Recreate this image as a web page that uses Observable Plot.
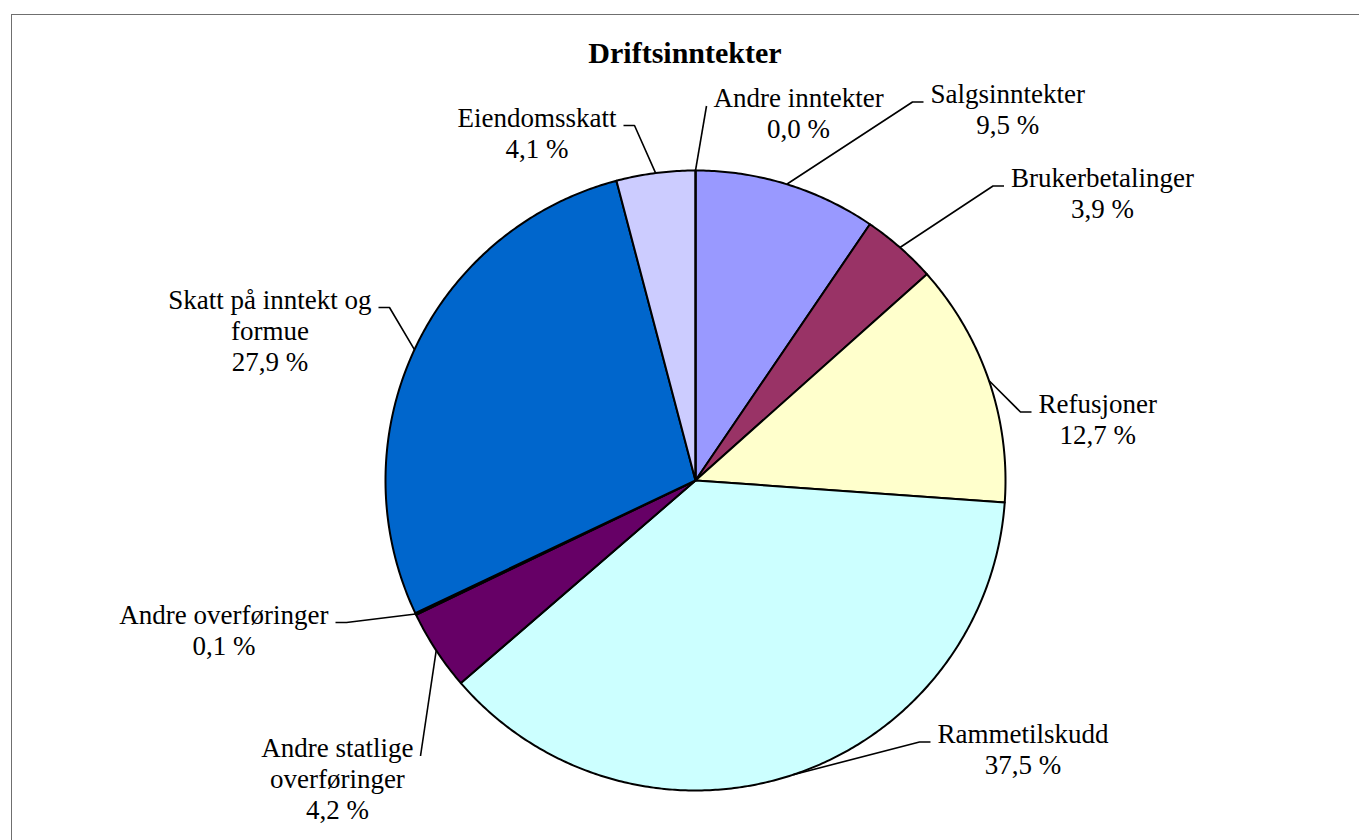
<!DOCTYPE html>
<html>
<head>
<meta charset="utf-8">
<script src="https://cdn.jsdelivr.net/npm/d3@7"></script>
<script src="https://cdn.jsdelivr.net/npm/@observablehq/plot@0.6"></script>
<style>
  html, body { margin: 0; padding: 0; background: #fff; overflow: hidden; }
  #wrap { position: relative; width: 1359px; height: 840px; }
  #frame { position: absolute; left: 11px; top: 14px; width: 1420px; height: 900px;
           border: 1.5px solid #6f6f6f; box-sizing: border-box; pointer-events: none; }
  #title { position: absolute; left: 0; top: 38px; width: 1370px; text-align: center;
           font: bold 30px/30px "Liberation Serif", "Times New Roman", serif; color: #000; margin: 0; }
  #chart { position: absolute; left: 0; top: 0; }
  #chart svg text, #chart svg tspan { font-family: "Liberation Serif", "Times New Roman", serif !important; }
</style>
</head>
<body>
<div id="wrap">
  <div id="chart"></div>
  <h2 id="title">Driftsinntekter</h2>
  <div id="frame"></div>
</div>
<script>
// ---- data ----
const categories = [
  "Salgsinntekter",
  "Brukerbetalinger",
  "Refusjoner",
  "Rammetilskudd",
  "Andre statlige overføringer",
  "Andre overføringer",
  "Skatt på inntekt og formue",
  "Eiendomsskatt",
  "Andre inntekter"
];
const shares = [9.5, 3.9, 12.7, 37.5, 4.2, 0.1, 27.9, 4.1, 0.0];
const labelText = [
  "Salgsinntekter",
  "Brukerbetalinger",
  "Refusjoner",
  "Rammetilskudd",
  "Andre statlige\noverføringer",
  "Andre overføringer",
  "Skatt på inntekt og\nformue",
  "Eiendomsskatt",
  "Andre inntekter"
];

// ---- styles / layout ----
const colours = ["#9999FF", "#993366", "#FFFFCC", "#CCFFFF", "#660066", "#FF8080", "#0066CC", "#CCCCFF", "#000080"];
const W = 1359, H = 840;
const pieCx = 695, pieCy = 480, pieR = 310;
// where each leader line meets its label box (label placement, as dragged in the original)
const leaderEnds = [[923, 101.5], [1003.5, 185.5], [1031, 411.5], [930, 741.5], [420, 755.5], [335, 622], [378, 307], [623, 125], [706, 105.5]];
const fontSize = 27, lineGap = 31;
const serif = '"Liberation Serif", "Times New Roman", serif';

// ---- build geometry from data ----
const rows = categories.map((c, i) => ({cat: c, value: shares[i], label: labelText[i]}));
const arcs = d3.pie().sort(null).value(d => d.value).startAngle(0).endAngle(2 * Math.PI)(rows);
const px = a => pieCx + pieR * Math.sin(a);
const py = a => pieCy - pieR * Math.cos(a);

const slicePts = [];
arcs.forEach(a => {
  const cat = a.data.cat;
  slicePts.push({cat, x: pieCx, y: pieCy});
  const n = Math.max(1, Math.ceil((a.endAngle - a.startAngle) / (Math.PI / 360)));
  for (let k = 0; k <= n; k++) {
    const t = a.startAngle + (a.endAngle - a.startAngle) * k / n;
    slicePts.push({cat, x: px(t), y: py(t)});
  }
});

const ctx = document.createElement("canvas").getContext("2d");
ctx.font = `${fontSize}px ${serif}`;

const leaderPts = [];
const labelRows = [];
arcs.forEach((a, i) => {
  const cat = a.data.cat;
  const mid = (a.startAngle + a.endAngle) / 2;
  const rx = px(mid), ry = py(mid);
  const [ex, ey] = leaderEnds[i];
  const dir = ex >= rx ? 1 : -1;
  leaderPts.push({cat, x: rx, y: ry});
  if (Math.abs(ex - rx) > 25) leaderPts.push({cat, x: ex - dir * 11, y: ey});
  leaderPts.push({cat, x: ex, y: ey});
  const pct = a.data.value.toFixed(1).replace(".", ",") + " %";
  const lines = (a.data.label + "\n" + pct).split("\n");
  const maxW = d3.max(lines, l => ctx.measureText(l).width);
  labelRows.push({
    cat,
    text: lines.join("\n"),
    tx: ex + dir * (7 + maxW / 2),
    ty: ey + 1 + (lines.length - 1) * lineGap
  });
});

const chart = Plot.plot({
  width: W,
  height: H,
  margin: 0,
  x: {domain: [0, W], range: [0, W], axis: null},
  y: {domain: [0, H], range: [0, H], axis: null},
  color: {domain: categories, range: colours},
  style: {background: "transparent", overflow: "visible", fontFamily: serif},
  marks: [
    Plot.line(slicePts, {x: "x", y: "y", z: "cat", fill: "cat", stroke: "black", strokeWidth: 2,
      strokeLinejoin: "round", curve: "linear-closed"}),
    Plot.line(leaderPts, {x: "x", y: "y", z: "cat", stroke: "black", strokeWidth: 1.6, strokeLinecap: "butt"}),
    Plot.text(labelRows, {x: "tx", y: "ty", text: "text", fontSize: fontSize, fontFamily: serif,
      textAnchor: "middle", lineAnchor: "bottom", lineHeight: lineGap / fontSize, fill: "black"})
  ]
});
document.getElementById("chart").appendChild(chart);
</script>
</body>
</html>
